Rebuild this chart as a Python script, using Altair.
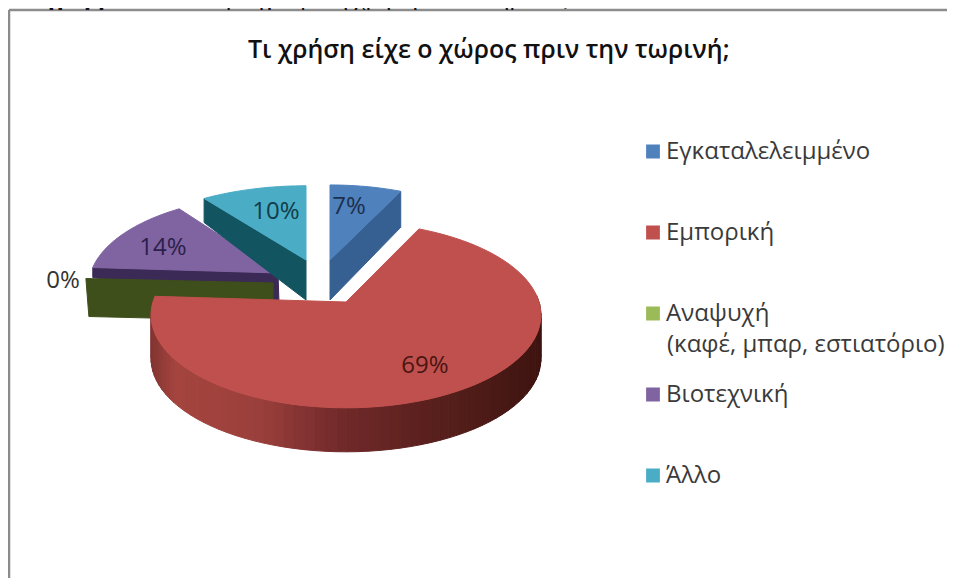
import math
import altair as alt
import pandas as pd

categories = ["Εγκαταλελειμμένο", "Εμπορική", "Αναψυχή (καφέ, μπαρ, εστιατόριο)", "Βιοτεχνική", "Άλλο"]
shares = [7, 69, 0, 14, 10]
top_colors = ["#4f81bd", "#c0504d", "#9bbb59", "#8064a2", "#4bacc6"]
wall_colors = ["#376092", "#7a2f2c", "#3f4f1c", "#3b2a55", "#135461"]
label_colors = ["#1c2f4d", "#4a1512", "#333333", "#2c1f4a", "#123c4a"]
title_text = "Τι χρήση είχε ο χώρος πριν την τωρινή;"
heading_bold = "Διάγραμμα 6.2:"
heading_regular = "Προηγούμενη χρήση καταστήματος."
legend_second_line = "(καφέ, μπαρ, εστιατόριο)"

W, H = 939, 570
# apex of each exploded slice and its drawing scale on the page
apex = [(330, 260), (346, 302), (273, 283), (278, 273), (306, 260)]
zoom_x = [0.97, 1.0, 0.98, 0.97, 1.0]
zoom_y = [0.94, 1.0, 0.97, 0.97, 0.93]
depth = [40, 44, 38, 40, 40]
R, RT, K = 193.0, 91.0, 0.14


def rim(i, theta):
    s = 1 / (1 + K * math.cos(theta))
    return (apex[i][0] + zoom_x[i] * R * math.sin(theta) * s,
            apex[i][1] - zoom_y[i] * RT * math.cos(theta) * s)


starts = []
acc = 0
for v in shares:
    starts.append(acc)
    acc += v


def lerp_colour(stops, t):
    for (t0, c0), (t1, c1) in zip(stops, stops[1:]):
        if t0 <= t <= t1:
            f = (t - t0) / (t1 - t0)
            a = [int(c0[j:j + 2], 16) for j in (1, 3, 5)]
            b = [int(c1[j:j + 2], 16) for j in (1, 3, 5)]
            return "#%02x%02x%02x" % tuple(round(x + (y - x) * f) for x, y in zip(a, b))
    return stops[-1][1]


red_wall = [(151, "#823532"), (175, "#a5443f"), (260, "#9a3f3b"), (340, "#71292a"),
            (440, "#571f1c"), (541, "#3e1410")]

rows = []
pid = 0


def add(pts, fill):
    global pid
    pid += 1
    for n, (x, y) in enumerate(pts):
        rows.append({"piece": pid, "n": n, "x": x, "y": y, "fill": fill})


def arc(i, steps=None):
    a0 = starts[i] / 100 * 2 * math.pi
    a1 = (starts[i] + shares[i]) / 100 * 2 * math.pi
    steps = steps or max(2, int(shares[i] * 2))
    return [rim(i, a0 + (a1 - a0) * k / steps) for k in range(steps + 1)]


# purple slice
pts = arc(3)
ax, ay = apex[3]
add([pts[0], (ax, ay), (ax + 1, ay + 30), (pts[0][0], pts[0][1] + 10)], wall_colors[3])
add([(ax, ay)] + pts, top_colors[3])

# 0 % slice: seen only as its upright cut face
gx0, gy0 = rim(2, starts[2] / 100 * 2 * math.pi)
ax, ay = apex[2]
add([(gx0, gy0 + 1), (ax, ay), (ax, ay + depth[2]), (gx0 + 3, gy0 + 1 + depth[2])], wall_colors[2])

# aqua slice
pts = arc(4)
ax, ay = apex[4]
add([pts[0], (ax, ay), (ax, ay + depth[4]), (pts[0][0], pts[0][1] + 24)], wall_colors[4])
add([(ax, ay)] + pts, top_colors[4])

# blue slice
pts = arc(0)
ax, ay = apex[0]
add([pts[-1], (ax, ay), (ax, ay + depth[0]), (pts[-1][0], pts[-1][1] + 36)], wall_colors[0])
add([(ax, ay)] + pts, top_colors[0])

# red wall, split into thin bands for the shading
fine = arc(1, 90)
for p, q in zip(fine, fine[1:]):
    if p[1] >= 296 or q[1] >= 296:
        c = lerp_colour(red_wall, (p[0] + q[0]) / 2)
        add([p, q, (q[0], q[1] + depth[1]), (p[0], p[1] + depth[1])], c)
add([apex[1]] + fine, top_colors[1])

poly_df = pd.DataFrame(rows)
legend_df = pd.DataFrame({"cat": categories, "x": [apex[1][0]] * 5, "y": [apex[1][1]] * 5})

# value labels
label_x = [349, 425, 63, 163, 276]
label_y = [207, 366, 281, 248, 212]
label_df = pd.DataFrame({"t": [f"{v}%" for v in shares], "x": label_x, "y": label_y, "c": label_colors})

# frame: only its top and left edges fall inside the picture
frame_df = pd.DataFrame({"x": [9, 9], "y": [10, 10], "x2": [955, 9], "y2": [10, 578]})

xs = alt.X("x:Q", scale=alt.Scale(domain=[8, 8 + W], nice=False, zero=False), axis=None)
ys = alt.Y("y:Q", scale=alt.Scale(domain=[8 + H, 8], nice=False, zero=False), axis=None)

frame = alt.Chart(frame_df).mark_rule(color="#8c8c8c", strokeWidth=2.5, clip=False).encode(
    x=xs, y=ys, x2="x2:Q", y2="y2:Q")

polys = alt.Chart(poly_df).mark_line(filled=True, strokeWidth=1, interpolate="linear-closed").encode(
    x=xs, y=ys, order="n:Q", detail="piece:N",
    fill=alt.Fill("fill:N", scale=None, legend=None),
    stroke=alt.Stroke("fill:N", scale=None, legend=None),
)

legend_layer = alt.Chart(legend_df).mark_point(filled=True, shape="square", opacity=0, size=0).encode(
    x=xs, y=ys,
    color=alt.Color("cat:N", scale=alt.Scale(domain=categories, range=top_colors),
                    legend=alt.Legend(
                        title=None, orient="none", legendX=633, legendY=132,
                        symbolType="square", symbolSize=190, symbolStrokeWidth=0, symbolOpacity=1,
                        labelFont="Open Sans", labelFontSize=24, labelColor="#3a3a3a",
                        labelLimit=400, labelOffset=1, rowPadding=56, clipHeight=23, values=categories,
                        labelExpr="split(datum.label, ' (')[0]",
                    )),
)

second_line = alt.Chart(pd.DataFrame({"t": [legend_second_line], "x": [667], "y": [345]})).mark_text(
    font="Open Sans", fontSize=24, align="left", color="#3a3a3a").encode(x=xs, y=ys, text="t:N")

labels = alt.Chart(label_df).mark_text(font="Open Sans", fontSize=24).encode(
    x=xs, y=ys, text="t:N", color=alt.Color("c:N", scale=None, legend=None))

head1 = alt.Chart(pd.DataFrame({"t": [heading_bold], "x": [8], "y": [5]})).mark_text(
    font="Liberation Serif", fontSize=25, fontWeight="bold", align="left", baseline="alphabetic",
    color="#111111", clip=False).encode(x=xs, y=ys, text="t:N")
head2 = alt.Chart(pd.DataFrame({"t": [heading_regular], "x": [208], "y": [5]})).mark_text(
    font="Liberation Serif", fontSize=25, align="left", baseline="alphabetic",
    color="#111111", clip=False).encode(x=xs, y=ys, text="t:N")

chart = alt.layer(frame, polys, legend_layer, second_line, labels, head1, head2).properties(
    width=W, height=H, padding=0, autosize=alt.AutoSizeParams(type="none"),
    title=alt.TitleParams(title_text, font="Open Sans", fontSize=25, fontWeight=600, color="#111111",
                          anchor="start", frame="group", dx=240, dy=78, offset=0),
).resolve_scale(color="independent").configure_view(stroke=None)

chart.save("out.html", embed_options={"renderer": "svg", "actions": False})
